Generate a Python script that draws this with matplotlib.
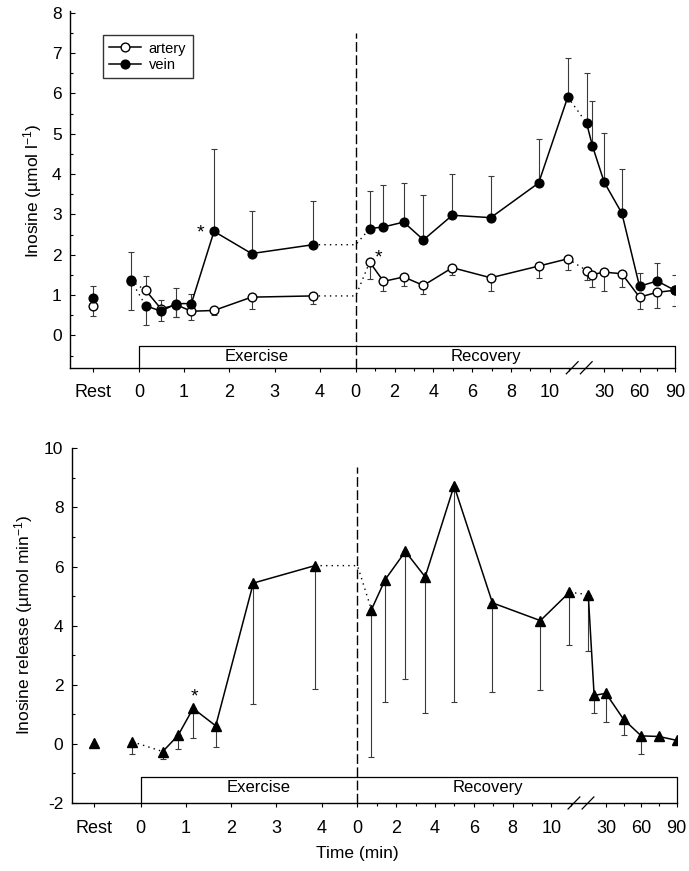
import matplotlib
matplotlib.use("Agg")
import matplotlib.pyplot as plt
import numpy as np
from matplotlib.lines import Line2D
import matplotlib.transforms as mtrans

plt.rcParams['font.family'] = ['Liberation Sans', 'DejaVu Sans']
plt.rcParams['mathtext.fontset'] = 'custom'
plt.rcParams['mathtext.rm'] = 'Liberation Sans'
plt.rcParams['mathtext.it'] = 'Liberation Sans:italic'
plt.rcParams['mathtext.bf'] = 'Liberation Sans:bold'
plt.rcParams['axes.unicode_minus'] = False

# ------------------------------------------------------------------ data
pre_time = -0.18                      # pre-exercise sample (exercise minutes)
ex_times = [0.15, 0.49, 0.83, 1.16, 1.66, 2.49, 3.85]
rec_times = [0.72, 1.43, 2.47, 3.49, 4.98, 6.96, 9.43, 10.93, 15, 20, 30, 45, 60, 75, 90]

# top panel: inosine concentration (umol/l)
art_rest, art_rest_lo = 0.73, 0.24
vein_rest, vein_rest_hi = 0.93, 0.29
art_pre = 1.36
vein_pre, vein_pre_lo, vein_pre_hi = 1.38, 0.74, 0.69

art_ex = [1.12, 0.66, 0.76, 0.60, 0.62, 0.95, 0.98]
art_ex_lo = [0, 0, 0.31, 0.21, 0.12, 0.30, 0.21]
art_ex_hi = [0.35, 0.23, 0, 0, 0, 0, 0]
vein_ex = [0.74, 0.60, 0.79, 0.79, 2.58, 2.03, 2.25]
vein_ex_lo = [0.47, 0.25, 0.34, 0, 0, 0, 0]
vein_ex_hi = [0, 0, 0.39, 0.24, 2.03, 1.05, 1.08]

art_rec = [1.82, 1.34, 1.45, 1.24, 1.68, 1.43, 1.72, 1.90, 1.61, 1.51, 1.57, 1.53, 0.95, 1.07, 1.12]
art_rec_lo = [0.41, 0.24, 0.23, 0.21, 0.19, 0.33, 0.29, 0.27, 0.23, 0.31, 0.47, 0.33, 0.29, 0.39, 0.38]
vein_rec = [2.65, 2.69, 2.81, 2.37, 2.98, 2.92, 3.78, 5.91, 5.27, 4.70, 3.80, 3.03, 1.22, 1.35, 1.12]
vein_rec_hi = [0.93, 1.03, 0.97, 1.10, 1.03, 1.04, 1.10, 0.98, 1.24, 1.11, 1.22, 1.09, 0.33, 0.44, 0.37]

# bottom panel: inosine release (umol/min)
rel_ex_times = [0.49, 0.83, 1.16, 1.66, 2.49, 3.85]
rel_rest = 0.03
rel_pre, rel_pre_lo = 0.07, 0.42
rel_ex = [-0.26, 0.29, 1.20, 0.61, 5.44, 6.03]
rel_ex_lo = [0.26, 0.47, 1.01, 0.70, 4.10, 4.16]
rel_rec = [4.54, 5.56, 6.51, 5.65, 8.73, 4.77, 4.17, 5.13, 5.05, 1.64, 1.71, 0.83, 0.27, 0.25, 0.12]
rel_rec_lo = [4.97, 4.16, 4.31, 4.62, 7.30, 3.00, 2.36, 1.77, 1.91, 0.61, 0.97, 0.53, 0.62, 0, 0]

ex_tick_labels = ['0', '1', '2', '3', '4']
rec_tick_labels = ['0', '2', '4', '6', '8', '10']
late_tick_labels = ['30', '60', '90']

# ------------------------------------------------------------------ axis mapping (broken time axis)
REST_X = -1.02
REC0 = 4.79
REC_SCALE = 0.4283
LATE30 = 10.276
LATE_SCALE = 0.026


def xr(t):
    t = np.asarray(t, dtype=float)
    return np.where(t <= 12, REC0 + t * REC_SCALE, LATE30 + (t - 30) * LATE_SCALE)


XLIM = (-1.52, 11.84)
ERR_KW = dict(fmt='none', ecolor='#3a3a3a', elinewidth=0.8, capsize=2.2, capthick=0.8, zorder=2)
DOT = (0, (1, 3))


def errs(ax, x, y, lo, hi):
    x = np.atleast_1d(np.asarray(x, float)); y = np.atleast_1d(np.asarray(y, float))
    lo = np.atleast_1d(np.asarray(lo, float)); hi = np.atleast_1d(np.asarray(hi, float))
    m = lo > 0
    if m.any():
        ax.errorbar(x[m], y[m], yerr=[lo[m], np.zeros(m.sum())], **ERR_KW)
    m2 = hi > 0
    if m2.any():
        ax.errorbar(x[m2], y[m2], yerr=[np.zeros(m2.sum()), hi[m2]], **ERR_KW)


def style_axes(ax, ylim, major, minor, box_top, text_y):
    ax.set_xlim(*XLIM)
    ax.set_ylim(*ylim)
    for s in ('top', 'right'):
        ax.spines[s].set_visible(False)
    for s in ('left', 'bottom'):
        ax.spines[s].set_linewidth(1.0)
    ax.set_yticks(major)
    ax.set_yticks(minor, minor=True)
    ax.tick_params(axis='y', which='major', direction='in', length=3.5, width=0.8, labelsize=12.5, pad=6)
    ax.tick_params(axis='y', which='minor', direction='in', length=2.5, width=0.8)
    xt = [REST_X] + list(range(5)) + list(xr([0, 2, 4, 6, 8, 10])) + list(xr([30, 60, 90]))
    xl = ['Rest'] + ex_tick_labels + rec_tick_labels + late_tick_labels
    ax.set_xticks(xt)
    ax.set_xticklabels(xl)
    ax.set_xticks(list(xr([1, 3, 5, 7, 9, 11, 45, 75])), minor=True)
    ax.tick_params(axis='x', which='major', direction='out', length=3, width=0.8, labelsize=13, pad=9)
    ax.tick_params(axis='x', which='minor', direction='out', length=2.2, width=0.8)
    # exercise / recovery box
    x90 = float(xr(90))
    ax.plot([0, 0, x90, x90], [ylim[0], box_top, box_top, ylim[0]], color='black', lw=0.9,
            clip_on=False, zorder=1)
    ax.text(2.6, text_y, 'Exercise', ha='center', va='center', fontsize=12)
    ax.text(7.67, text_y, 'Recovery', ha='center', va='center', fontsize=12)
    # axis break marks
    tr = mtrans.blended_transform_factory(ax.transData, ax.transAxes)
    for bx in (9.57, 9.88):
        ax.plot([bx - 0.13, bx + 0.13], [-0.017, 0.017], color='black', lw=0.9,
                transform=tr, clip_on=False, zorder=5)


fig = plt.figure(figsize=(6.89, 8.71), dpi=100)
ax1 = fig.add_axes([0.1016, 0.5778, 0.8781, 0.4099])
ax2 = fig.add_axes([0.1041, 0.0781, 0.8781, 0.4072])

# ------------------------------------------------------------------ top panel
style_axes(ax1, (-0.8, 8.05), range(0, 9), np.arange(-0.5, 8, 1.0), -0.25, -0.52)
ax1.plot([REC0, REC0], [-0.8, 7.5], color='black', lw=1.0, dashes=(7, 2.5), zorder=1)

ex_x = np.array(ex_times)
rec_x = xr(rec_times)
early = slice(0, 8)
late = slice(8, None)

errs(ax1, [REST_X], [art_rest], [art_rest_lo], [0])
errs(ax1, [REST_X], [vein_rest], [0], [vein_rest_hi])
errs(ax1, [pre_time], [vein_pre], [vein_pre_lo], [vein_pre_hi])
errs(ax1, ex_x, art_ex, art_ex_lo, art_ex_hi)
errs(ax1, ex_x, vein_ex, vein_ex_lo, vein_ex_hi)
errs(ax1, rec_x, art_rec, art_rec_lo, np.zeros(len(rec_x)))
errs(ax1, rec_x, vein_rec, np.zeros(len(rec_x)), vein_rec_hi)

lkw = dict(color='black', lw=1.1, zorder=3)
for pre, ex_vals, rec_vals in ((art_pre, art_ex, art_rec), (vein_pre, vein_ex, vein_rec)):
    ax1.plot([pre_time, ex_x[0]], [pre, ex_vals[0]], color='black', lw=1.0, ls=DOT, zorder=3)
    ax1.plot(ex_x, ex_vals, **lkw)
    ax1.plot([ex_x[-1], REC0, rec_x[0]], [ex_vals[-1], ex_vals[-1], rec_vals[0]], color='black', lw=1.0, ls=DOT, zorder=3)
    ax1.plot(rec_x[early], np.array(rec_vals)[early], **lkw)
    ax1.plot(rec_x[7:9], np.array(rec_vals)[7:9], color='black', lw=1.0, ls=DOT, zorder=3)
    ax1.plot(rec_x[late], np.array(rec_vals)[late], **lkw)

okw = dict(marker='o', ms=6.3, mec='black', mew=1.0, ls='none', zorder=4)
ax1.plot([REST_X, pre_time], [art_rest, art_pre], mfc='white', **okw)
ax1.plot(ex_x, art_ex, mfc='white', **okw)
ax1.plot(rec_x, art_rec, mfc='white', **okw)
fkw = dict(okw); fkw['zorder'] = 5
ax1.plot([REST_X, pre_time], [vein_rest, vein_pre], mfc='black', **fkw)
ax1.plot(ex_x, vein_ex, mfc='black', **fkw)
ax1.plot(rec_x, vein_rec, mfc='black', **fkw)

ax1.text(1.37, 2.55, '*', ha='center', va='center', fontsize=14)
ax1.text(5.30, 1.93, '*', ha='center', va='center', fontsize=14)

handles = [Line2D([], [], color='black', lw=1.1, marker='o', ms=6.3, mfc='white', mec='black'),
           Line2D([], [], color='black', lw=1.1, marker='o', ms=6.3, mfc='black', mec='black')]
leg = ax1.legend(handles, ['artery', 'vein'], loc='upper left', bbox_to_anchor=(0.054, 0.932),
                 borderaxespad=0, fontsize=10.5, frameon=True, fancybox=False, handlelength=2.2,
                 handletextpad=0.5, borderpad=0.45, labelspacing=0.15)
leg.get_frame().set_edgecolor('black')
leg.get_frame().set_linewidth(1.0)

fig.text(33 / 689, 1 - 191 / 871, 'Inosine (µmol l$^{-1}$)', rotation=90, ha='center', va='center', fontsize=12.5)

# ------------------------------------------------------------------ bottom panel
style_axes(ax2, (-2, 10), range(-2, 11, 2), np.arange(-1, 10, 2), -1.13, -1.47)
ax2.plot([REC0, REC0], [-2, 9.38], color='black', lw=1.0, dashes=(7, 2.5), zorder=1)

rx = np.array(rel_ex_times)
errs(ax2, [pre_time], [rel_pre], [rel_pre_lo], [0])
errs(ax2, rx, rel_ex, rel_ex_lo, np.zeros(len(rx)))
errs(ax2, rec_x, rel_rec, rel_rec_lo, np.zeros(len(rec_x)))

ax2.plot([pre_time, rx[0]], [rel_pre, rel_ex[0]], color='black', lw=1.0, ls=DOT, zorder=3)
ax2.plot(rx, rel_ex, **lkw)
ax2.plot([rx[-1], REC0, rec_x[0]], [rel_ex[-1], rel_ex[-1], rel_rec[0]], color='black', lw=1.0, ls=DOT, zorder=3)
ax2.plot(rec_x[early], np.array(rel_rec)[early], **lkw)
ax2.plot(rec_x[7:9], np.array(rel_rec)[7:9], color='black', lw=1.0, ls=DOT, zorder=3)
ax2.plot(rec_x[late], np.array(rel_rec)[late], **lkw)

tkw = dict(marker='^', ms=7, mfc='black', mec='black', ls='none', zorder=5)
ax2.plot([REST_X, pre_time], [rel_rest, rel_pre], **tkw)
ax2.plot(rx, rel_ex, **tkw)
ax2.plot(rec_x, rel_rec, **tkw)

ax2.text(1.18, 1.6, '*', ha='center', va='center', fontsize=14)

fig.text(24 / 689, 1 - 625 / 871, 'Inosine release (µmol min$^{-1}$)', rotation=90, ha='center', va='center', fontsize=12.5)
fig.text(357 / 689, 1 - 853 / 871, 'Time (min)', ha='center', va='center', fontsize=12.5)

fig.savefig('out.png', dpi=100)
